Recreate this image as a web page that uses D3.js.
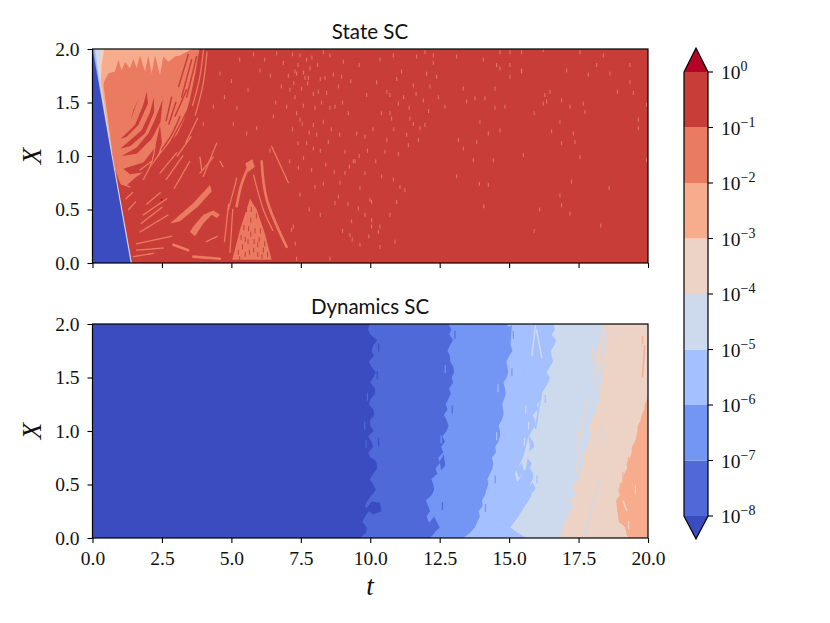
<!DOCTYPE html>
<html><head><meta charset="utf-8">
<script src="https://cdn.jsdelivr.net/npm/d3@7/dist/d3.min.js"></script>
<style>html,body{margin:0;padding:0;background:#fff}svg{display:block}</style>
</head><body><svg id="c" width="830" height="623"></svg>
<script>
// ---- data (t, X in axis units) ----
const levelExponents=[-8,-7,-6,-5,-4,-3,-2,-1,0];
const bandColors=["#4f69d9","#7396f5","#a5c0fe","#cdd9ec","#ecd3c5","#f7ac8e","#ea7b60","#c93d39"];
const underColor="#3b4cc0", overColor="#b40426";
const xTicks=[0,2.5,5,7.5,10,12.5,15,17.5,20];
const yTicks=[0,0.5,1,1.5,2];
const titles=["State SC","Dynamics SC"];

// Dynamics SC: one t per X knot (X = 0, 0.05, ... 2) for each level boundary
const dynX=[0,.05,.1,.15,.2,.25,.3,.35,.4,.45,.5,.55,.6,.65,.7,.75,.8,.85,.9,.95,1,1.05,1.1,1.15,1.2,1.25,1.3,1.35,1.4,1.45,1.5,1.55,1.6,1.65,1.7,1.75,1.8,1.85,1.9,1.95,2];
const dynB0=[9.63,9.85,9.87,9.72,9.81,9.95,9.81,9.9,10.05,10.2,10.11,9.98,10.11,10.25,10.23,10.0,9.93,10.1,10.05,9.92,10.13,10.0,9.99,10.15,10.11,9.95,10.01,10.18,10.17,10.0,10.11,10.2,10.05,9.95,10.13,10.05,10.11,10.25,10.01,9.92,9.97];
const dynB1=[12.15,12.32,12.42,12.1,12.03,12.15,12.09,12.0,12.21,12.3,12.27,12.2,12.42,12.35,12.51,12.45,12.63,12.55,12.69,12.6,12.75,12.82,12.75,12.65,12.78,12.72,12.81,12.9,12.84,12.98,12.93,13.02,12.99,12.88,12.87,12.78,12.87,12.98,12.85,12.92,12.81];
const dynB2=[13.35,13.6,13.77,13.85,13.95,13.9,14.05,14.02,14.13,14.18,14.25,14.22,14.31,14.4,14.43,14.38,14.53,14.5,14.61,14.68,14.67,14.62,14.73,14.8,14.79,14.75,14.82,14.88,14.85,14.8,14.91,14.97,14.94,14.9,15.0,15.12,15.06,14.95,14.97,15.05,14.91];
const dynB3=[15.63,15.3,15.03,15.2,15.33,15.45,15.57,15.7,15.81,15.7,15.75,15.85,15.87,15.75,15.81,15.65,15.69,15.9,15.87,15.72,15.81,15.95,15.93,15.85,16.05,16.0,16.17,16.15,16.29,16.4,16.47,16.35,16.47,16.58,16.53,16.5,16.62,16.7,16.53,16.65,16.59];
const dynB4=[16.83,16.88,16.95,17.0,17.13,17.2,17.31,17.25,17.43,17.3,17.31,17.48,17.55,17.6,17.67,17.62,17.73,17.8,17.85,17.95,17.91,17.88,17.97,18.05,18.15,18.1,18.27,18.2,18.21,18.32,18.27,18.2,18.21,18.12,18.09,18.2,18.21,18.3,18.27,18.35,18.42];
const dynB5=[19.29,19.22,19.17,19.0,19.05,18.88,18.93,18.85,18.99,18.93,19.02,19.1,19.14,19.25,19.23,19.35,19.41,19.42,19.53,19.58,19.62,19.63,19.74,19.77,19.86,19.88,19.98,20,20,20,20,20,20,20,20,20,20,20,20,20,20];
const dynPatches=[
 {band:-1,pts:[[9.85,.27],[10.05,.34],[10.35,.33],[10.4,.25],[10.1,.22]]},
 {band:-1,pts:[[9.9,.7],[10.05,.75],[10.2,.72],[10.05,.64]]},
 {band:0,pts:[[12.05,.12],[12.3,.2],[12.5,.1],[12.4,.07],[12.15,.05]]},
 {band:0,pts:[[12.5,.72],[12.65,.78],[12.7,.68],[12.55,.63]]},
 {band:1,pts:[[14.9,1.96],[15.1,1.99],[15.05,1.8],[14.95,1.85]]},
 {band:3,pts:[[15.2,.6],[15.5,.75],[15.7,.95],[15.75,.85],[15.6,.65],[15.3,.52]]},
 {band:2,pts:[[15.25,.64],[15.45,.7],[15.55,.62],[15.35,.56]]},
 {band:2,pts:[[15.05,.5],[15.2,.55],[15.25,.47],[15.1,.42]]},
 {band:2,pts:[[15.6,.44],[15.85,.52],[15.95,.46],[15.7,.38]]},
 {band:5,pts:[[18.85,.35],[19.0,.32],[19.1,.12],[18.95,.15]]}
];
const dynStreaks=[
 {band:3,pts:[[15.95,1.99],[15.82,1.7]]},{band:3,pts:[[15.98,1.95],[16.18,1.68]]},{band:2,pts:[[16.2,1.42],[15.95,1.02]]},
 {band:4,pts:[[17.98,1.78],[18.12,1.42]]},{band:4,pts:[[17.85,1.3],[17.55,.95],[17.42,.6]]},
 {band:3,pts:[[18.35,1.95],[18.3,1.55],[18.2,1.25]]},{band:3,pts:[[18.55,1.95],[18.4,1.7]]},{band:3,pts:[[18.3,1.05],[18.42,.9]]},
 {band:3,pts:[[18.25,.55],[17.95,.25],[17.7,.05]]},{band:5,pts:[[19.88,1.8],[19.8,1.5]]},{band:4,pts:[[19.25,.25],[19.1,.35]]}
];
const dynFlecks=[
 {band:0,t:9.8,X:1.05},{band:0,t:9.9,X:1.32},{band:-1,t:10.25,X:1.52},{band:0,t:9.85,X:.88},{band:-1,t:10.3,X:.9},{band:-1,t:10.3,X:1.78},
 {band:1,t:12.55,X:.92},{band:0,t:12.95,X:1.2},{band:1,t:12.7,X:1.58},{band:0,t:13.05,X:1.9},{band:1,t:12.4,X:.5},{band:0,t:12.6,X:.3},
 {band:2,t:14.6,X:1.4},{band:1,t:15.1,X:1.55},{band:2,t:14.55,X:.95},{band:1,t:14.5,X:.55},{band:1,t:15.15,X:1.9},{band:1,t:14.15,X:.28},
 {band:3,t:15.6,X:1.2},{band:3,t:15.55,X:.9},{band:2,t:16.35,X:1.7},{band:2,t:16.3,X:1.3},{band:3,t:15.7,X:1.05},{band:2,t:16.0,X:.55},
 {band:4,t:17.5,X:.95},{band:3,t:18.05,X:.9},{band:4,t:17.85,X:.65},{band:3,t:18.45,X:1.6},{band:4,t:17.2,X:.35},
 {band:5,t:19.1,X:.58},{band:5,t:19.3,X:.72},{band:4,t:19.55,X:.45},{band:5,t:19.95,X:1.15},{band:5,t:19.8,X:1.85},{band:4,t:19.3,X:.12},{band:5,t:19.0,X:.48}
];

// State SC: polygons of t,X
const wedgeBlue=[[0,2],[0,0],[1.37,0]];
const fanEdges=[
 {band:5,pts:[[0,2],[.5,2],[.42,1.8],[.4,1.65],[.53,1.4],[.73,1],[1.42,0],[0,0]]},
 {band:4,pts:[[0,2],[.42,2],[.33,1.85],[.3,1.7],[.47,1.4],[.71,1],[1.41,0],[0,0]]},
 {band:3,pts:[[0,2],[.27,2],[.2,1.87],[.26,1.7],[.44,1.4],[.7,1],[1.4,0],[0,0]]},
 {band:2,pts:[[0,2],[.1,2],[.15,1.9],[.25,1.7],[.43,1.4],[.69,1],[1.39,0],[0,0]]},
 {band:1,pts:[[0,2],[.05,2],[.1,1.9],[.22,1.7],[.42,1.4],[.68,1],[1.375,0],[0,0]]}
];
const salmonMain=[[.2,2],[3.85,2],[3.7,1.77],[3.5,1.52],[3.3,1.34],[3.05,1.2],[2.75,1.12],[2.45,1.02],[2.1,.9],[1.55,.8],[1.2,.72],[1.0,.74],[.7,.95],[.2,1.8]];
const peachTop=[[0,2],[0,1.6],[.27,1.62],[.57,1.77],[.81,1.79],[.93,1.9],[1.05,1.8],[1.17,1.88],[1.35,1.82],[1.47,1.91],[1.59,1.82],[1.71,1.94],[1.89,1.79],[2.01,1.94],[2.13,1.77],[2.25,1.94],[2.43,1.76],[2.55,1.93],[2.73,1.88],[2.97,1.93],[3.15,1.94],[3.51,1.99],[3.6,2]];
const redStripes=[
 [[1.69,1.55],[1.47,1.43],[1.39,1.34],[1.53,1.45]],
 [[1.95,1.6],[1.83,1.48],[1.53,1.29],[1.01,1.16],[1.23,1.18],[1.65,1.29],[2.0,1.49]],
 [[2.21,1.55],[2.07,1.41],[1.77,1.24],[1.01,1.07],[1.35,1.09],[1.89,1.21],[2.22,1.41]],
 [[2.53,1.53],[2.25,1.34],[2.01,1.21],[1.59,1.08],[1.05,1.0],[1.59,1.02],[2.13,1.16],[2.45,1.32]],
 [[2.43,1.29],[2.25,1.08],[1.83,.94],[1.11,.88],[1.35,.83],[1.95,.85],[2.13,.92],[2.37,1.02],[2.5,1.12]]
];
const redStreaks=[
 [[3.39,1.41],[3.0,1.22],[2.73,1.09]],[[3.69,1.49],[3.35,1.32],[3.03,1.18]],[[3.15,1.37],[2.85,1.2],[2.49,1.06]],
 [[3.75,1.93],[3.39,1.55]],[[3.93,1.96],[3.57,1.55]],[[3.57,1.9],[3.21,1.55]],[[3.39,1.62],[2.97,1.37]],[[3.45,1.95],[3.1,1.65]],
 [[3.0,1.5],[2.75,1.3]],[[2.85,1.55],[2.65,1.33]]
];
const salmonBlobs=[
 [[4.23,.73],[3.63,.56],[2.79,.37],[3.15,.39],[3.81,.53],[4.29,.67]],
 [[3.51,.29],[3.69,.25],[3.99,.37],[4.29,.45],[4.47,.42],[4.59,.45],[4.35,.49],[3.99,.45],[3.63,.34]],
 [[5.67,.6],[5.31,.31],[5.03,.03],[6.45,.03],[6.2,.28],[5.91,.5]],
 [[5.5,.93],[5.75,.97],[5.85,.9],[5.6,.85]]
];
const salmonThick=[
 [[5.67,.93],[5.37,.74],[5.19,.53]],[[6.09,.95],[6.27,.6],[6.99,.15]],[[2.91,.17],[3.45,.12]],[[3.63,.06],[4.59,.04]]
];
const salmonThin=[
 [[4.0,2],[3.85,1.72],[3.6,1.47]],[[4.12,1.97],[3.98,1.67],[3.7,1.38]],[[3.78,1.35],[3.35,1.12]],[[3.55,1.18],[3.05,1.0]],
 [[6.45,1.09],[7.05,.75]],[[4.47,1.12],[3.99,.81]],[[3.87,.99],[3.93,.87]],[[4.59,.95],[4.7,.9]],
 [[1.83,.78],[2.13,.94],[2.25,1.09]],[[2.43,.84],[3.03,1.03]],[[2.65,.78],[3.25,1.0]],[[2.95,.7],[3.5,.95]],
 [[1.71,.87],[2.13,.95]],[[1.83,.45],[2.67,.6]],[[1.71,.29],[2.73,.45]],[[1.59,.18],[2.85,.25]],[[1.59,.12],[2.55,.14]],
 [[1.75,.37],[2.5,.52]],[[1.95,.55],[2.45,.66]],[[1.47,.06],[2.19,.09]],[[3.87,.84],[4.35,.99]],
 [[.99,.84],[1.35,.78]],[[1.05,.74],[1.35,.71]],[[1.2,.6],[1.45,.66]],[[1.3,.5],[1.55,.57]],
 [[5.19,.79],[5.07,.67],[4.89,.5]],[[4.9,.55],[4.75,.2]],[[4.95,.1],[5.05,.5]],[[5.8,.82],[6.15,.5],[6.5,.3]],[[4.1,.2],[4.5,.25]]
];
const redFlecks=[[5.55,.5],[5.45,.33],[5.7,.4],[5.85,.3],[5.6,.2],[5.4,.15],[5.8,.12],[6.0,.22],[6.15,.12],[5.95,.08],[5.25,.1],[6.2,.18],[5.65,.1],[6.05,.3],[5.5,.08],[5.7,.27],[5.9,.44],[5.35,.24],[5.5,.22],[5.72,.5],[5.82,.2],[6.1,.06],[5.62,.32],[5.3,.04],[5.95,.17],[6.3,.08]];
const specks=[
 [7.47,1.94],[7.71,1.9],[7.83,1.82],[7.65,1.73],[7.77,1.73],[7.53,1.63],[7.29,1.55],[7.35,1.4],[8.01,1.45],[8.13,1.6],[8.43,1.59],[8.85,1.65],[9.21,1.4],[8.73,1.46],[8.31,1.32],[8.07,1.2],[7.71,1.12],[8.49,1.13],[7.95,1.07],[7.41,.89],[7.89,.87],[8.01,.71],[7.17,.31],[7.23,.34],[9.27,.26],[9.45,.95],[9.39,.95],[9.81,1.18],[9.51,1.21],[10.71,1.4],[10.77,1.35],[11.01,1.49],[12.03,1.77],[12.39,1.74],[11.55,1.66],[11.91,1.52],[12.69,1.46],[13.47,1.51],[10.35,1.9],[10.83,1.94],[11.67,1.93],[12.27,1.94],[13.17,1.15],[13.35,1.07],[11.31,1.2],[11.37,1.1],[11.01,1.02],[10.53,1.04],[9.09,1.04],[9.81,.84],[10.41,.81],[10.83,.78],[11.07,.71],[11.25,.68],[9.63,.7],[8.85,.62],[8.73,.56],[9.57,.51],[9.99,.59],[10.05,.57],[10.29,.29],[9.63,.17],[10.35,.15],[9.33,.39],[10.71,.45],[10.95,.57],[13.11,.81],[11.97,1.29],[11.73,1.15],[11.79,1.26],
 [8.37,1.73],[8.67,1.76],[8.97,1.74],[7.29,1.79],[7.59,1.47],[7.95,1.29],[8.55,1.94],[9.03,1.88],[8.31,1.97],[9.87,1.57],[10.23,1.69],[11.13,1.79],[11.43,1.35],[12.27,1.87],[11.97,1.97],[13.11,1.93],[13.35,1.63],[10.71,1.57],[9.81,.45],[8.55,.04],[7.35,.04],[10.35,.34],[10.05,.34],[10.89,.2],[8.91,.75],[9.09,.84],[8.31,.74],[7.47,.64],
 [14.07,1.9],[14.55,1.85],[15.03,1.85],[15.45,1.79],[15.03,1.74],[14.67,1.82],[15.45,1.8],[17.07,1.8],[18.15,1.85],[18.63,1.77],[17.85,1.76],[16.47,1.6],[16.29,1.57],[16.89,1.52],[17.19,1.46],[17.67,1.49],[17.73,1.41],[14.49,1.63],[13.77,1.54],[14.13,1.54],[14.49,1.45],[14.85,1.46],[14.67,1.24],[13.83,1.13],[14.25,1.21],[13.71,.96],[14.43,.96],[13.93,.74],[14.25,.73],[14.09,.53],[17.31,1.21],[17.37,1.13],[16.89,1.12],[17.55,.99],[17.25,.76],[16.89,.54],[17.19,.46],[16.83,.63],[19.65,1.34],[19.65,1.26],[19.47,1.59],[19.95,1.48],[19.95,.96],[19.35,1.69],[16.35,1.51],[16.23,1.49],[16.83,1.32],[16.53,1.23],[13.95,1.32],[15.51,1.01],[15.45,1.97],[15.03,1.97],[14.67,1.97],[16.23,1.99],[17.55,1.97],[18.39,1.94],[19.35,1.85],[18.9,1.6],[15.9,1.4],[16.1,.5],[15.9,.3],[18.3,.35],[18.6,.7],
 [7.2,1.95],[7.4,1.85],[7.6,1.78],[7.9,1.92],[8.1,1.85],[8.2,1.72],[7.75,1.68],[7.95,1.58],[8.25,1.5],[8.55,1.45],[7.55,1.3],[7.8,1.22],[8.2,1.05],[8.6,1.25],[8.9,1.2],[9.0,1.5],[9.3,1.7],[9.6,1.85],[7.25,1.68],[7.2,1.25],[7.4,1.12],[7.6,.98],[8.4,.92],[8.7,.85],[9.25,.9],[9.6,1.0],[9.9,1.05],[10.1,1.25],[10.4,1.4],[10.6,1.6],[10.95,1.72],[11.2,1.55],[11.4,1.45],[11.65,1.58],[12.15,1.65],[12.45,1.55],[12.1,1.42],[11.55,1.3],[10.85,1.25],[10.6,1.15],[10.2,.95],[9.2,.55],[9.0,.3],[9.35,.22],[9.95,.25],[10.05,.4],[8.2,.45],[7.8,.5],[7.3,.18],[7.1,.95],[7.05,1.75],[6.8,1.65],[6.6,1.5],[6.4,1.75],[6.2,1.9],[5.8,1.95],[5.3,1.9],[5.0,1.7],[4.75,1.55],[5.2,1.45],[5.6,1.62],
 [6.63,1.96],[6.87,1.87],[7.11,1.62],[6.03,1.8],[5.91,1.26],[6.39,1.05],[5.55,1.21],[4.59,1.77],[4.35,1.46],[3.99,1.3],[5.07,1.3],[6.99,1.46],[6.51,1.37],[7.35,1.77],[7.47,1.34]
];
const darkDot=[[2.49,.59]];

// ---- layout ----
const svg=d3.select("#c");
const W=[92.5,648];
const panels=[{top:49,bot:263,labels:false},{top:324,bot:538,labels:true}];
const x=d3.scaleLinear().domain([0,20]).range(W);
const SERIF="'Liberation Serif','DejaVu Serif',serif";
const SANS="Lato,'Noto Sans',sans-serif";
let clipN=0;

panels.forEach((p,i)=>{
  const y=d3.scaleLinear().domain([0,2]).range([p.bot,p.top]);
  p.y=y;
  const id="clip"+(clipN++);
  svg.append("clipPath").attr("id",id).append("rect").attr("x",W[0]).attr("y",p.top).attr("width",W[1]-W[0]).attr("height",p.bot-p.top);
  const g=svg.append("g").attr("clip-path",`url(#${id})`);
  p.g=g;
  const poly=d3.line().x(d=>x(d[0])).y(d=>y(d[1]));
  p.poly=pts=>poly(pts)+"Z";
  p.line=d3.line().x(d=>x(d[0])).y(d=>y(d[1])).curve(d3.curveCatmullRom);
});
const col=b=>b<0?underColor:bandColors[b];

// State SC
(function(){
  const p=panels[0],g=p.g,y=p.y;
  const streak=(data,color,w)=>g.append("g").selectAll("path").data(data).join("path").attr("d",d=>p.line(d)).attr("fill","none").attr("stroke",color).attr("stroke-width",w).attr("stroke-linecap","round").attr("stroke-dasharray",w<2?"3 .7":null);
  const tick=(data,color,h,w,op)=>g.append("g").selectAll("line").data(data).join("line").attr("x1",d=>x(d[0])).attr("x2",d=>x(d[0])).attr("y1",d=>y(d[1])-h).attr("y2",d=>y(d[1])+h).attr("stroke",color).attr("stroke-width",w).attr("stroke-opacity",op);
  g.append("rect").attr("x",W[0]).attr("y",p.top).attr("width",W[1]-W[0]).attr("height",p.bot-p.top).attr("fill",bandColors[7]);
  g.append("path").attr("d",p.poly(salmonMain)).attr("fill",bandColors[6]);
  g.append("g").selectAll("path").data(redStripes).join("path").attr("d",d=>p.poly(d)).attr("fill",bandColors[7]);
  streak(redStreaks,bandColors[7],1.5);
  g.append("g").selectAll("path").data(salmonBlobs).join("path").attr("d",d=>p.poly(d)).attr("fill",bandColors[6]);
  streak(salmonThick,bandColors[6],2.6);
  streak(salmonThin,bandColors[6],1.3);
  tick(redFlecks,bandColors[7],2.5,1,1);
  tick(specks,"#ee8a70",2,1,.8);
  g.append("path").attr("d",p.poly(peachTop)).attr("fill",bandColors[5]);
  g.append("g").selectAll("path").data(fanEdges).join("path").attr("d",d=>p.poly(d.pts)).attr("fill",d=>col(d.band));
  g.append("path").attr("d",p.poly(wedgeBlue)).attr("fill",underColor);
  g.append("g").selectAll("circle").data(darkDot).join("circle").attr("cx",d=>x(d[0])).attr("cy",d=>y(d[1])).attr("r",1).attr("fill",overColor);
})();

// Dynamics SC
(function(){
  const p=panels[1],g=p.g,y=p.y;
  g.append("rect").attr("x",W[0]).attr("y",p.top).attr("width",W[1]-W[0]).attr("height",p.bot-p.top).attr("fill",underColor);
  const area=d3.area().y(d=>y(d[1])).x0(d=>x(d[0])).x1(x(20));
  [dynB0,dynB1,dynB2,dynB3,dynB4,dynB5].forEach((b,i)=>{
    g.append("path").attr("d",area(b.map((t,k)=>[t,dynX[k]]))).attr("fill",bandColors[i]);
  });
  g.append("g").selectAll("path").data(dynPatches).join("path").attr("d",d=>p.poly(d.pts)).attr("fill",d=>col(d.band));
  g.append("g").selectAll("path").data(dynStreaks).join("path").attr("d",d=>p.line(d.pts)).attr("fill","none").attr("stroke",d=>col(d.band)).attr("stroke-width",1.5);
  g.append("g").selectAll("line").data(dynFlecks).join("line").attr("x1",d=>x(d.t)).attr("x2",d=>x(d.t)).attr("y1",d=>y(d.X)-4).attr("y2",d=>y(d.X)+4).attr("stroke",d=>col(d.band)).attr("stroke-width",1.2);
})();

// axes, frames, titles
panels.forEach((p,i)=>{
  const ax=d3.axisBottom(x).tickValues(xTicks).tickSize(5).tickPadding(8).tickFormat(p.labels?d3.format(".1f"):"");
  const ay=d3.axisLeft(p.y).tickValues(yTicks).tickSize(5).tickPadding(8).tickFormat(d3.format(".1f"));
  const gx=svg.append("g").attr("transform",`translate(0,${p.bot})`).call(ax);
  const gy=svg.append("g").attr("transform",`translate(${W[0]},0)`).call(ay);
  [gx,gy].forEach(a=>{
    a.select(".domain").remove();
    a.selectAll("line").attr("stroke","#000").attr("stroke-width",1.1);
    a.selectAll("text").attr("font-family",SERIF).attr("font-size",19.5).attr("fill","#111");
  });
  svg.append("rect").attr("x",W[0]).attr("y",p.top).attr("width",W[1]-W[0]).attr("height",p.bot-p.top).attr("fill","none").attr("stroke","#000").attr("stroke-width",1.2);
  svg.append("text").text(titles[i]).attr("x",370).attr("y",p.top-10).attr("text-anchor","middle").attr("font-family",SANS).attr("font-size",20.5).attr("fill","#111");
  svg.append("text").text("X").attr("transform",`translate(41,${(p.top+p.bot)/2}) rotate(-90)`).attr("text-anchor","middle").attr("font-family",SERIF).attr("font-style","italic").attr("font-size",27).attr("fill","#111");
});
svg.append("text").text("t").attr("x",370).attr("y",595).attr("text-anchor","middle").attr("font-family",SERIF).attr("font-style","italic").attr("font-size",27).attr("fill","#111");

// colour bar
const cb=d3.scaleLog().domain([1e-8,1]).range([516,72]);
const cbX=[684,708],cbMid=696;
levelExponents.slice(0,-1).forEach((e,i)=>{
  svg.append("rect").attr("x",cbX[0]).attr("width",cbX[1]-cbX[0]).attr("y",cb(Math.pow(10,e+1))).attr("height",cb(Math.pow(10,e))-cb(Math.pow(10,e+1))).attr("fill",bandColors[i]);
});
svg.append("path").attr("d",`M${cbX[0]},${cb(1)}L${cbMid},48L${cbX[1]},${cb(1)}Z`).attr("fill",overColor);
svg.append("path").attr("d",`M${cbX[0]},${cb(1e-8)}L${cbMid},539L${cbX[1]},${cb(1e-8)}Z`).attr("fill",underColor);
svg.append("path").attr("d",`M${cbX[0]},${cb(1)}L${cbMid},48L${cbX[1]},${cb(1)}L${cbX[1]},${cb(1e-8)}L${cbMid},539L${cbX[0]},${cb(1e-8)}Z`).attr("fill","none").attr("stroke","#000").attr("stroke-width",1.2);
levelExponents.forEach(e=>{
  const yy=cb(Math.pow(10,e));
  svg.append("line").attr("x1",cbX[1]).attr("x2",cbX[1]+5).attr("y1",yy).attr("y2",yy).attr("stroke","#000").attr("stroke-width",1.1);
  const t=svg.append("text").attr("x",721).attr("y",yy+7).attr("font-family",SERIF).attr("font-size",19.5).attr("fill","#111");
  t.append("tspan").text("10");
  t.append("tspan").text(e===0?"0":"\u2212"+(-e)).attr("dy",-8).attr("font-size",14);
});
</script></body></html>
